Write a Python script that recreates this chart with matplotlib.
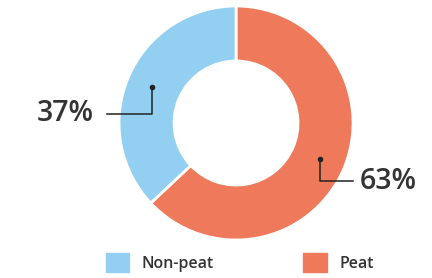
import numpy as np
import matplotlib
matplotlib.use("Agg")
import matplotlib.pyplot as plt
from matplotlib.patches import Patch

categories = ["Peat", "Non-peat"]
values = [63, 37]
labels = ["63%", "37%"]
colors = ["#EE7A5B", "#93CFF0"]

plt.rcParams['font.family'] = ['Open Sans', 'DejaVu Sans']

fig = plt.figure(figsize=(4.32, 2.78), dpi=100)
ax = fig.add_axes([0.2755, 0.1367, 0.5417, 0.8417])
wedges, _ = ax.pie(values, colors=colors, startangle=90, counterclock=False,
                   radius=1.0, wedgeprops=dict(width=0.47, edgecolor="white", linewidth=2))
ax.set_xlim(-1, 1)
ax.set_ylim(-1, 1)
ax.set_aspect("equal")
ax.axis("off")

txtcol = "#333333"
# Peat label (right)
w = wedges[0]
mid = np.deg2rad((w.theta1 + w.theta2) / 2)
dx, dy = 0.78 * np.cos(mid), 0.78 * np.sin(mid)
ax.plot([dx, dx, dx + 0.28], [dy, -0.50, -0.50], color="#222222", lw=1.1, clip_on=False)
ax.plot([dx], [dy], "o", color="#222222", ms=3, clip_on=False)
ax.text(1.06, -0.50, labels[0], fontsize=20.5, fontweight="semibold", color=txtcol,
        ha="left", va="center")

# Non-peat label (left)
w = wedges[1]
mid = np.deg2rad((w.theta1 + w.theta2) / 2)
dx, dy = 0.78 * np.cos(mid), 0.78 * np.sin(mid)
ax.plot([dx, dx, -1.10], [dy, 0.08, 0.08], color="#222222", lw=1.1, clip_on=False)
ax.plot([dx], [dy], "o", color="#222222", ms=3, clip_on=False)
ax.text(-1.22, 0.08, labels[1], fontsize=20.5, fontweight="semibold", color=txtcol,
        ha="right", va="center")

handles = [Patch(color=colors[1], label=categories[1]),
           Patch(color=colors[0], label=categories[0])]
fig.legend(handles=handles, loc="center", bbox_to_anchor=(0.555, 0.055), ncol=2,
           frameon=False, handlelength=1.45, handleheight=1.45,
           columnspacing=5.6, handletextpad=0.8, labelcolor="#333333",
           prop=dict(size=11.5, weight="semibold"))

fig.savefig("out.png", dpi=100)
